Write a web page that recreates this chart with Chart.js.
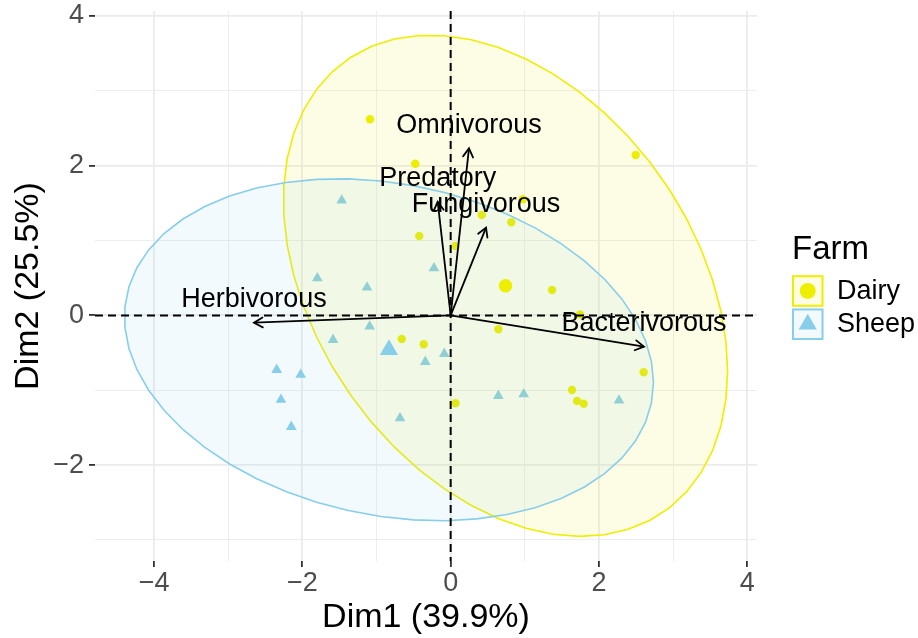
<!DOCTYPE html>
<html>
<head>
<meta charset="utf-8">
<script src="https://cdn.jsdelivr.net/npm/chart.js@4.4.1/dist/chart.umd.min.js"></script>
<style>
  html, body { margin: 0; padding: 0; background: #ffffff; }
  canvas { display: block; }
</style>
</head>
<body>
<canvas id="biplot" width="918" height="638"></canvas>
<script>
// ---- Data: PCA individual coordinates by farm type ----
const groups = ['Dairy', 'Sheep'];

const dairyDim1 = [-1.088, -0.477, -0.423, 0.065, 2.495, 0.972, 0.419, 0.818, 1.367, 1.744,
                   -0.660, -0.363, 0.065, 0.643, 2.603, 1.636, 1.704, 1.794];
const dairyDim2 = [2.620, 2.026, 1.061, 0.927, 2.143, 1.551, 1.341, 1.244, 0.339, 0.011,
                   -0.315, -0.386, -1.174, -0.186, -0.760, -0.997, -1.143, -1.180];

const sheepDim1 = [-1.469, -1.798, -1.128, -0.225, -1.092, -1.586, -0.086, -0.342,
                   -2.346, -2.022, -2.288, -2.149, -0.683, 0.643, 0.985, 2.270];
const sheepDim2 = [1.535, 0.497, 0.373, 0.631, -0.148, -0.326, -0.513, -0.620,
                   -0.727, -0.793, -1.127, -1.488, -1.373, -1.074, -1.053, -1.137];

// ---- Variable loadings (arrow tips) ----
const varNames = ['Omnivorous', 'Predatory', 'Fungivorous', 'Herbivorous', 'Bacterivorous'];
const varDim1  = [0.247, -0.175, 0.477, -2.652, 2.607];
const varDim2  = [2.232, 1.519, 1.172, -0.098, -0.418];

// ---- Axis ticks ----
const xTickValues = [-4, -3, -2, -1, 0, 1, 2, 3, 4];
const xTickLabels = ['\u22124', '', '\u22122', '', '0', '', '2', '', '4'];
const yTickValues = [-3, -2, -1, 0, 1, 2, 3, 4];
const yTickLabels = ['', '\u22122', '', '0', '', '2', '', '4'];

const xTitle = 'Dim1 (39.9%)';
const yTitle = 'Dim2 (25.5%)';
const legendTitle = 'Farm';

// ---- Styling ----
const FONT = "'Liberation Sans', Arial, Helvetica, sans-serif";
const COL_DAIRY = '#EEEE00';
const COL_SHEEP = '#87CEEB';
const FILL_DAIRY = 'rgba(238,238,0,0.10)';
const FILL_SHEEP = 'rgba(135,206,235,0.10)';
const ELLIPSE_LEVEL = 0.95;
const ELLIPSE_SEGMENTS = 51;

Chart.defaults.font.family = FONT;

const mean = a => a.reduce((s, v) => s + v, 0) / a.length;
const toPoints = (xs, ys) => xs.map((x, i) => ({ x: x, y: ys[i] }));

// Normal-theory confidence ellipse around a group's points
function confidenceEllipse(xs, ys) {
  const n = xs.length;
  const mx = mean(xs), my = mean(ys);
  let sxx = 0, syy = 0, sxy = 0;
  for (let i = 0; i < n; i++) {
    const dx = xs[i] - mx, dy = ys[i] - my;
    sxx += dx * dx; syy += dy * dy; sxy += dx * dy;
  }
  sxx /= (n - 1); syy /= (n - 1); sxy /= (n - 1);
  // Cholesky factor of the covariance matrix
  const r11 = Math.sqrt(sxx);
  const r12 = sxy / r11;
  const r22 = Math.sqrt(syy - r12 * r12);
  // F quantile with 2 numerator df has a closed form
  const dfd = n - 1;
  const fq = (dfd / 2) * (Math.pow(1 - ELLIPSE_LEVEL, -2 / dfd) - 1);
  const radius = Math.sqrt(2 * fq);
  const out = [];
  for (let k = 0; k <= ELLIPSE_SEGMENTS; k++) {
    const a = 2 * Math.PI * k / ELLIPSE_SEGMENTS;
    const c = Math.cos(a), s = Math.sin(a);
    out.push({ x: mx + radius * c * r11, y: my + radius * (c * r12 + s * r22) });
  }
  return out;
}

const datasets = [
  { label: 'Dairy points', data: toPoints(dairyDim1, dairyDim2), order: 6,
    pointStyle: 'circle', pointRadius: 4.2, pointBackgroundColor: COL_DAIRY, pointBorderWidth: 0 },
  { label: 'Sheep points', data: toPoints(sheepDim1, sheepDim2), order: 5,
    pointStyle: 'triangle', pointRadius: 6.2, pointBackgroundColor: COL_SHEEP, pointBorderWidth: 0 },
  { label: 'Dairy ellipse', data: confidenceEllipse(dairyDim1, dairyDim2), order: 4,
    showLine: true, tension: 0, pointRadius: 0, borderColor: COL_DAIRY, borderWidth: 1.6,
    backgroundColor: FILL_DAIRY, fill: 'shape' },
  { label: 'Sheep ellipse', data: confidenceEllipse(sheepDim1, sheepDim2), order: 3,
    showLine: true, tension: 0, pointRadius: 0, borderColor: COL_SHEEP, borderWidth: 1.6,
    backgroundColor: FILL_SHEEP, fill: 'shape' },
  { label: 'Dairy mean', data: [{ x: mean(dairyDim1), y: mean(dairyDim2) }], order: 2,
    pointStyle: 'circle', pointRadius: 6.8, pointBackgroundColor: COL_DAIRY, pointBorderWidth: 0 },
  { label: 'Sheep mean', data: [{ x: mean(sheepDim1), y: mean(sheepDim2) }], order: 2,
    pointStyle: 'triangle', pointRadius: 10.5, pointBackgroundColor: COL_SHEEP, pointBorderWidth: 0 }
];

// Arrow shafts from the origin to each loading
varNames.forEach((name, i) => {
  datasets.push({
    label: 'arrow ' + name, order: 1,
    data: [{ x: 0, y: 0 }, { x: varDim1[i], y: varDim2[i] }],
    showLine: true, tension: 0, pointRadius: 0, borderColor: '#000000', borderWidth: 1.8
  });
});

// Dashed reference lines through the origin, drawn on top of the ellipses
const originLines = {
  id: 'originLines',
  afterDatasetDraw(chart, args) {
    if (args.meta.label !== 'Sheep ellipse') return;
    const { ctx, chartArea: a, scales: { x, y } } = chart;
    const px = x.getPixelForValue(0), py = y.getPixelForValue(0);
    ctx.save();
    ctx.strokeStyle = '#000000';
    ctx.lineWidth = 2;
    ctx.setLineDash([8, 5]);
    ctx.beginPath();
    ctx.moveTo(a.left, py); ctx.lineTo(a.right, py);
    ctx.moveTo(px, a.top); ctx.lineTo(px, a.bottom);
    ctx.stroke();
    ctx.restore();
  }
};

// Arrowheads and variable names
const arrowDecor = {
  id: 'arrowDecor',
  afterDatasetsDraw(chart) {
    const { ctx, scales: { x, y } } = chart;
    const x0 = x.getPixelForValue(0), y0 = y.getPixelForValue(0);
    ctx.save();
    ctx.strokeStyle = '#000000';
    ctx.lineWidth = 1.8;
    ctx.lineCap = 'round';
    varNames.forEach((name, i) => {
      const tx = x.getPixelForValue(varDim1[i]);
      const ty = y.getPixelForValue(varDim2[i]);
      const ang = Math.atan2(ty - y0, tx - x0);
      const len = 10, spread = Math.PI / 6;
      ctx.beginPath();
      ctx.moveTo(tx - len * Math.cos(ang - spread), ty - len * Math.sin(ang - spread));
      ctx.lineTo(tx, ty);
      ctx.lineTo(tx - len * Math.cos(ang + spread), ty - len * Math.sin(ang + spread));
      ctx.stroke();
    });
    ctx.fillStyle = '#000000';
    ctx.font = '27px ' + FONT;
    ctx.textAlign = 'center';
    ctx.textBaseline = 'middle';
    varNames.forEach((name, i) => {
      const tx = x.getPixelForValue(varDim1[i]);
      const ty = y.getPixelForValue(varDim2[i]);
      ctx.fillText(name, tx, ty - 23);
    });
    ctx.restore();
  }
};

// Legend for the farm groups
const farmLegend = {
  id: 'farmLegend',
  afterDraw(chart) {
    const ctx = chart.ctx;
    const left = chart.chartArea.right + 35;
    ctx.save();
    ctx.fillStyle = '#000000';
    ctx.font = '33px ' + FONT;
    ctx.textAlign = 'left';
    ctx.textBaseline = 'alphabetic';
    ctx.fillText(legendTitle, left, 258.5);

    const size = 31.5, pitch = 33.3, top0 = 275.2;
    const strokes = [COL_DAIRY, COL_SHEEP];
    const fills = [FILL_DAIRY, FILL_SHEEP];
    groups.forEach((g, i) => {
      const top = top0 + i * pitch;
      const cx = left + size / 2, cy = top + size / 2;
      ctx.fillStyle = '#ffffff';
      ctx.fillRect(left, top, size, size);
      ctx.fillStyle = fills[i];
      ctx.fillRect(left, top, size, size);
      ctx.strokeStyle = strokes[i];
      ctx.lineWidth = 2;
      ctx.strokeRect(left + 1, top + 1, size - 2, size - 2);
      ctx.fillStyle = strokes[i];
      ctx.beginPath();
      if (i === 0) {
        ctx.arc(cx, cy, 8, 0, Math.PI * 2);
      } else {
        const r = 10.5;
        ctx.moveTo(cx, cy - r);
        ctx.lineTo(cx + r * Math.sin(2 * Math.PI / 3), cy - r * Math.cos(2 * Math.PI / 3));
        ctx.lineTo(cx + r * Math.sin(4 * Math.PI / 3), cy - r * Math.cos(4 * Math.PI / 3));
        ctx.closePath();
      }
      ctx.fill();
      ctx.fillStyle = '#000000';
      ctx.font = '27px ' + FONT;
      ctx.textBaseline = 'middle';
      ctx.fillText(g, left + 45, cy + 0.5);
    });
    ctx.restore();
  }
};

const isMajor = v => Math.abs(v % 2) < 1e-9;

new Chart(document.getElementById('biplot'), {
  type: 'scatter',
  data: { datasets: datasets },
  options: {
    responsive: false,
    animation: false,
    devicePixelRatio: 1,
    layout: { padding: { left: 0, right: 161, top: 11, bottom: 0 } },
    plugins: { legend: { display: false }, tooltip: { enabled: false } },
    scales: {
      x: {
        type: 'linear', min: -4.796, max: 4.131,
        afterBuildTicks: s => { s.ticks = xTickValues.map(v => ({ value: v })); },
        afterFit: s => { s.height = 77; s.paddingLeft = 0; s.paddingRight = 0; },
        border: { display: false },
        grid: {
          color: '#EBEBEB',
          lineWidth: c => (c.tick && isMajor(c.tick.value)) ? 1.8 : 0.9,
          drawTicks: true, tickLength: 6,
          tickColor: c => (c.tick && isMajor(c.tick.value)) ? '#333333' : 'rgba(0,0,0,0)',
          tickWidth: 1.8
        },
        ticks: {
          autoSkip: false, maxRotation: 0, padding: 0, color: '#4D4D4D',
          font: { size: 27 },
          callback: v => xTickLabels[xTickValues.indexOf(v)]
        },
        title: { display: true, text: xTitle, color: '#000000', font: { size: 34 }, padding: { top: 0, bottom: 0 } }
      },
      y: {
        type: 'linear', min: -3.281, max: 4.066,
        afterBuildTicks: s => { s.ticks = yTickValues.map(v => ({ value: v })); },
        afterFit: s => { s.width = 95; s.paddingTop = 0; s.paddingBottom = 0; },
        border: { display: false },
        grid: {
          color: '#EBEBEB',
          lineWidth: c => (c.tick && isMajor(c.tick.value)) ? 1.8 : 0.9,
          drawTicks: true, tickLength: 6,
          tickColor: c => (c.tick && isMajor(c.tick.value)) ? '#333333' : 'rgba(0,0,0,0)',
          tickWidth: 1.8
        },
        ticks: {
          autoSkip: false, padding: 5, color: '#4D4D4D',
          font: { size: 27 },
          callback: v => yTickLabels[yTickValues.indexOf(v)]
        },
        title: { display: true, text: yTitle, color: '#000000', font: { size: 34 }, padding: { top: 8, bottom: 0 } }
      }
    }
  },
  plugins: [originLines, arrowDecor, farmLegend]
});
</script>
</body>
</html>
